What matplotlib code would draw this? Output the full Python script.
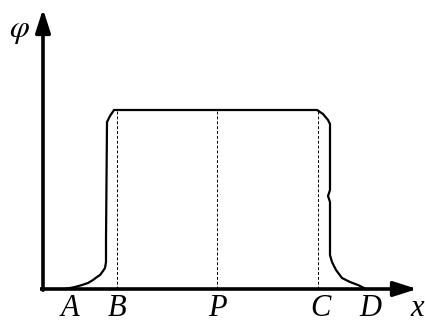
import numpy as np
import matplotlib
matplotlib.use("Agg")
import matplotlib.pyplot as plt

# curve phi(x) (origin at axis crossing, units ~ pixels)
curve_x = [22, 32, 39, 45, 50, 54, 57, 60, 62, 63, 63, 64, 67, 71,
           274, 280, 285, 287, 287, 285, 287, 287, 289, 293, 299, 307, 315, 323]
curve_y = [0, 2, 4, 6, 9, 12, 14, 18, 21, 27, 49, 167, 173, 179,
           179, 175, 169, 165, 99, 93, 87, 34, 27, 19, 11, 7, 4, 0]

marks = ['A', 'B', 'P', 'C', 'D']
mark_x = [27, 74, 174, 277, 327]
guide_x = [74, 174, 275]   # dashed verticals at B, P, C
plateau = 179

fig = plt.figure(figsize=(4.25, 3.26), dpi=100)
ax = fig.add_axes([0, 0, 1, 1])
ax.set_xlim(-43, 382)
ax.set_ylim(-37, 289)
ax.axis('off')

# axes with arrows
ax.annotate('', xy=(0, 280), xytext=(0, -1.2),
            arrowprops=dict(arrowstyle='-|>,head_length=1.4,head_width=0.45',
                            lw=2.6, color='black', shrinkA=0, shrinkB=0))
ax.annotate('', xy=(374, 0), xytext=(-1.2, 0),
            arrowprops=dict(arrowstyle='-|>,head_length=1.4,head_width=0.45',
                            lw=2.6, color='black', shrinkA=0, shrinkB=0,
                            capstyle='projecting'))

for gx in guide_x:
    ax.plot([gx, gx], [0, plateau], ls=(0, (3, 2)), lw=0.7, color='black')

ax.plot(curve_x, curve_y, color='black', lw=1.6, solid_joinstyle='round')

font = dict(family='Liberation Serif', style='italic', fontsize=22)
for m, mx in zip(marks, mark_x):
    ax.text(mx, -20, m, ha='center', va='center', **font)
ax.text(374, -19, 'x', ha='center', va='center', **font)
ax.text(-24, 258, r'$\varphi$', ha='center', va='center', fontsize=23,
        math_fontfamily='stix')

fig.savefig('out.png', dpi=100)
